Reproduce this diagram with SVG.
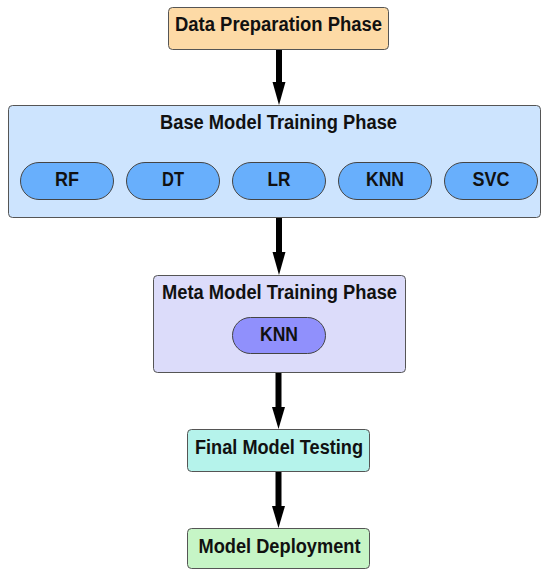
<svg xmlns="http://www.w3.org/2000/svg" width="543" height="569" viewBox="0 0 543 569">
  <style>
    .box { stroke: #555; stroke-width: 1; }
    .pill { stroke: #444; stroke-width: 1; }
    .lbl { font-family: "Liberation Sans", Arial, sans-serif; font-weight: bold; font-size: 20px; fill: #111; text-anchor: middle; }
    .edge { stroke: #000; stroke-width: 6; fill: none; }
    .head { fill: #000; }
  </style>
  <rect width="543" height="569" fill="#fff"/>

  <!-- flow arrows between phases -->
  <g id="connectors">
    <line class="edge" x1="279" y1="50" x2="279" y2="82"/>
    <path class="head" d="M272.5,82 L285.5,82 L279,105 Z"/>
    <line class="edge" x1="279" y1="218" x2="279" y2="252"/>
    <path class="head" d="M272.5,252 L285.5,252 L279,275 Z"/>
    <line class="edge" x1="278.5" y1="373" x2="278.5" y2="407"/>
    <path class="head" d="M272,407 L285,407 L278.5,429 Z"/>
    <line class="edge" x1="278.5" y1="472" x2="278.5" y2="506"/>
    <path class="head" d="M272,506 L285,506 L278.5,528 Z"/>
  </g>

  <g id="data-prep">
    <rect class="box" x="168.5" y="7.5" width="220" height="42" rx="4" fill="#FDDAA6"/>
    <text class="lbl" x="278.5" y="31" textLength="207" lengthAdjust="spacingAndGlyphs">Data Preparation Phase</text>
  </g>

  <g id="base-training">
    <rect class="box" x="8.5" y="105.5" width="532" height="112" rx="4" fill="#CDE4FE"/>
    <text class="lbl" x="278.5" y="129" textLength="237" lengthAdjust="spacingAndGlyphs">Base Model Training Phase</text>
    <g id="rf">
      <rect class="pill" x="20.5" y="162.5" width="93" height="37" rx="18.5" fill="#68AFFC"/>
      <text class="lbl" x="67" y="186" textLength="24" lengthAdjust="spacingAndGlyphs">RF</text>
    </g>
    <g id="dt">
      <rect class="pill" x="126.5" y="162.5" width="93" height="37" rx="18.5" fill="#68AFFC"/>
      <text class="lbl" x="173" y="186" textLength="22" lengthAdjust="spacingAndGlyphs">DT</text>
    </g>
    <g id="lr">
      <rect class="pill" x="232.5" y="162.5" width="93" height="37" rx="18.5" fill="#68AFFC"/>
      <text class="lbl" x="279" y="186" textLength="23" lengthAdjust="spacingAndGlyphs">LR</text>
    </g>
    <g id="knn-base">
      <rect class="pill" x="338.5" y="162.5" width="93" height="37" rx="18.5" fill="#68AFFC"/>
      <text class="lbl" x="385" y="186" textLength="38" lengthAdjust="spacingAndGlyphs">KNN</text>
    </g>
    <g id="svc">
      <rect class="pill" x="444.5" y="162.5" width="93" height="37" rx="18.5" fill="#68AFFC"/>
      <text class="lbl" x="491" y="186" textLength="37" lengthAdjust="spacingAndGlyphs">SVC</text>
    </g>
  </g>

  <g id="meta-training">
    <rect class="box" x="153.5" y="275.5" width="252" height="97" rx="4" fill="#DCDCFA"/>
    <text class="lbl" x="279.5" y="299" textLength="235" lengthAdjust="spacingAndGlyphs">Meta Model Training Phase</text>
    <g id="knn-meta">
      <rect class="pill" x="232.5" y="317.5" width="93" height="36" rx="18" fill="#9090FC"/>
      <text class="lbl" x="279" y="341" textLength="38" lengthAdjust="spacingAndGlyphs">KNN</text>
    </g>
  </g>

  <g id="final-testing">
    <rect class="box" x="187.5" y="429.5" width="182" height="42" rx="4" fill="#B5F3EB"/>
    <text class="lbl" x="279" y="454" textLength="168" lengthAdjust="spacingAndGlyphs">Final Model Testing</text>
  </g>

  <g id="deployment">
    <rect class="box" x="187.5" y="528.5" width="182" height="40" rx="4" fill="#C6F5C6"/>
    <text class="lbl" x="279.5" y="553" textLength="162" lengthAdjust="spacingAndGlyphs">Model Deployment</text>
  </g>
</svg>
